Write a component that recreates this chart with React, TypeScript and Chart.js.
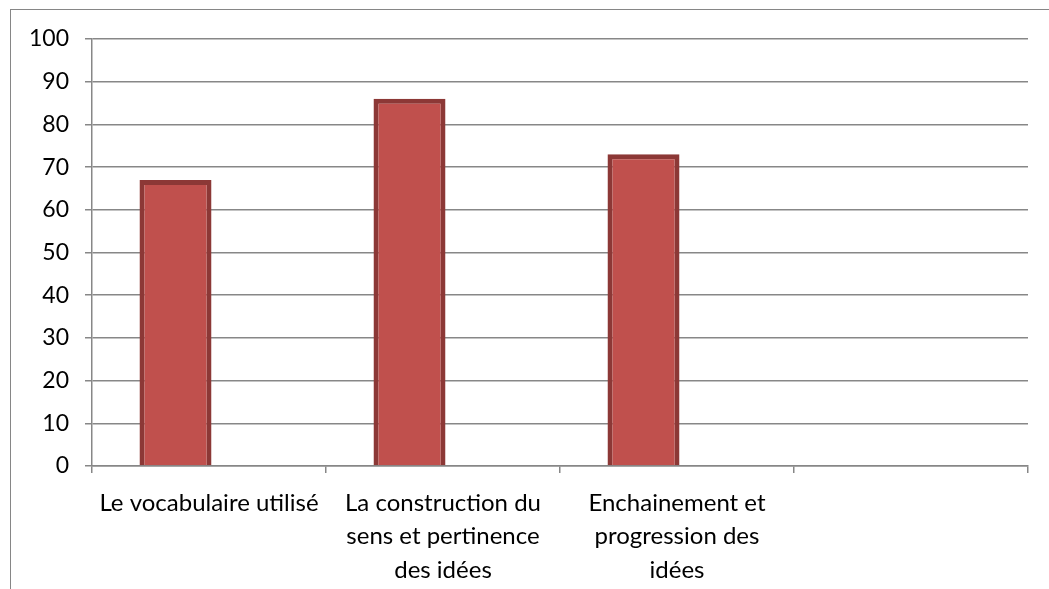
import React, { useEffect, useRef } from "react";
import { Chart, registerables } from "chart.js";

Chart.register(...registerables);

const categories: (string | string[])[] = [
  "Le vocabulaire utilisé",
  ["La construction du", "sens et pertinence", "des idées"],
  ["Enchainement et", "progression des", "idées"],
  "",
];
const seriesValues: (number | null)[] = [67, 86, 73, null];
const emptySeries: (number | null)[] = [null, null, null, null];
const yTicks = { min: 0, max: 100, step: 10 };

const FONT = "Lato, 'Open Sans', sans-serif";
const GRID = "#878787";

export default function App() {
  const ref = useRef<HTMLCanvasElement | null>(null);
  useEffect(() => {
    if (!ref.current) return;
    const chart = new Chart(ref.current, {
      type: "bar",
      data: {
        labels: categories,
        datasets: [
          {
            data: seriesValues,
            backgroundColor: "#C0504D",
            borderColor: "#8C3836",
            borderWidth: 5,
            categoryPercentage: 0.5726,
            barPercentage: 1.075,
          },
          {
            data: emptySeries,
            backgroundColor: "#4F81BD",
            categoryPercentage: 0.5726,
            barPercentage: 1.075,
          },
        ],
      },
      options: {
        animation: false,
        responsive: false,
        maintainAspectRatio: false,
        layout: { padding: { left: 0, top: 39, right: 21, bottom: 0 } },
        plugins: { legend: { display: false }, tooltip: { enabled: false } },
        scales: {
          x: {
            offset: true,
            grid: {
              offset: true,
              drawOnChartArea: false,
              drawTicks: true,
              tickLength: 7,
              color: GRID,
              lineWidth: 1.5,
            },
            border: { display: true, color: GRID, width: 1.5 },
            ticks: {
              color: "#000",
              font: { family: FONT, size: 24, lineHeight: 1.4 },
              padding: 13,
              maxRotation: 0,
              autoSkip: false,
            },
            afterFit: (s: any) => {
              s.height = 589 - 466;
            },
          },
          y: {
            min: yTicks.min,
            max: yTicks.max,
            ticks: {
              stepSize: yTicks.step,
              color: "#000",
              font: { family: FONT, size: 23 },
              padding: 16,
            },
            grid: {
              color: GRID,
              lineWidth: 1.5,
              drawTicks: true,
              tickLength: 7,
            },
            border: { display: true, color: GRID, width: 1.5 },
            afterFit: (s: any) => {
              s.width = 92;
            },
          },
        },
      },
    });
    return () => chart.destroy();
  }, []);
  return (
    <div
      style={{
        position: "fixed",
        left: 0,
        top: 0,
        width: 1049,
        height: 589,
        background: "#fff",
        overflow: "hidden",
      }}
    >
      <div
        style={{
          position: "absolute",
          left: 10,
          top: 9,
          width: 1100,
          height: 700,
          borderLeft: "1.5px solid #868686",
          borderTop: "1.5px solid #868686",
        }}
      />
      <canvas
        ref={ref}
        width={1049}
        height={589}
        style={{ position: "absolute", left: 0, top: 0, width: 1049, height: 589 }}
      />
    </div>
  );
}
